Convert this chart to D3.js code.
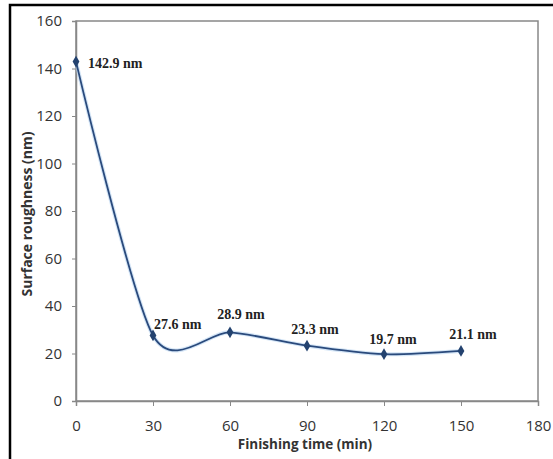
<!DOCTYPE html>
<html><head><meta charset="utf-8">
<script src="https://cdn.jsdelivr.net/npm/d3@7"></script>
<style>
body{margin:0;background:#fff;}
svg{display:block;}
</style></head>
<body>
<svg id="c" width="553" height="459"></svg>
<script>
// Data
const times = [0, 30, 60, 90, 120, 150];
const roughness = [142.9, 27.6, 28.9, 23.3, 19.7, 21.1];
const valueLabels = ["142.9 nm", "27.6 nm", "28.9 nm", "23.3 nm", "19.7 nm", "21.1 nm"];
const xTicks = [0, 30, 60, 90, 120, 150, 180];
const yTicks = [0, 20, 40, 60, 80, 100, 120, 140, 160];
// label placement offsets (dx, dy, anchor)
const labelOffsets = [[12, 6, "start"], [1, -6, "start"], [11, -13, "middle"], [8, -12, "middle"], [9, -10, "middle"], [12, -12, "middle"]];

const svg = d3.select("#c");
const m = {l: 76, t: 21, r: 538, b: 401};
const x = d3.scaleLinear().domain([0, 180]).range([m.l, m.r]);
const y = d3.scaleLinear().domain([0, 160]).range([m.b, m.t]);

// outer frame
svg.append("path").attr("d", "M10,459 L10,5 L553,5").attr("fill", "none").attr("stroke", "#000").attr("stroke-width", 2.5);

// plot border
svg.append("rect").attr("x", m.l).attr("y", m.t).attr("width", m.r - m.l).attr("height", m.b - m.t)
  .attr("fill", "none").attr("stroke", "#888").attr("stroke-width", 1.5);

const tickFont = "'Open Sans', 'DejaVu Sans', sans-serif";
// y axis
const ya = svg.append("g").attr("transform", `translate(${m.l},0)`)
  .call(d3.axisLeft(y).tickValues(yTicks).tickSize(4).tickPadding(10));
ya.select(".domain").attr("stroke", "#888").attr("stroke-width", 1.5);
ya.selectAll(".tick line").attr("stroke", "#888");
ya.selectAll("text").attr("font-family", tickFont).attr("font-size", 15).attr("fill", "#333");

// x axis
const xa = svg.append("g").attr("transform", `translate(0,${m.b})`)
  .call(d3.axisBottom(x).tickValues(xTicks).tickSize(5).tickPadding(14));
xa.select(".domain").attr("stroke", "#888").attr("stroke-width", 1.5);
xa.selectAll(".tick line").attr("stroke", "#888");
xa.selectAll("text").attr("font-family", tickFont).attr("font-size", 15).attr("fill", "#333");

// axis titles
svg.append("text").attr("x", 305).attr("y", 449).attr("text-anchor", "middle")
  .attr("font-family", tickFont).attr("font-weight", "bold").attr("font-size", 13.5).attr("fill", "#333")
  .text("Finishing time (min)");
svg.append("text").attr("transform", "translate(32,214) rotate(-90)").attr("text-anchor", "middle")
  .attr("font-family", tickFont).attr("font-weight", "bold").attr("font-size", 14).attr("fill", "#333")
  .text("Surface roughness (nm)");

const pts = times.map((t, i) => [x(t), y(roughness[i])]);
const line = d3.line().curve(d3.curveCardinal.tension(0.2));
svg.append("path").attr("d", line(pts)).attr("fill", "none").attr("stroke", "#b8d4f0").attr("stroke-width", 4).attr("opacity", 0.6);
svg.append("path").attr("d", line(pts)).attr("fill", "none").attr("stroke", "#2a4a7c").attr("stroke-width", 1.8);

svg.selectAll(".mk").data(pts).enter().append("path")
  .attr("transform", d => `translate(${d[0]},${d[1]})`)
  .attr("d", d3.symbol().type(d3.symbolDiamond).size(40))
  .attr("fill", "#23426f");

svg.selectAll(".lb").data(pts).enter().append("text")
  .attr("x", (d, i) => d[0] + labelOffsets[i][0])
  .attr("y", (d, i) => d[1] + labelOffsets[i][1])
  .attr("text-anchor", (d, i) => labelOffsets[i][2])
  .attr("font-family", "'Liberation Serif', 'Times New Roman', serif")
  .attr("font-weight", "bold").attr("font-size", 14).attr("fill", "#222")
  .text((d, i) => valueLabels[i]);
</script>
</body></html>
